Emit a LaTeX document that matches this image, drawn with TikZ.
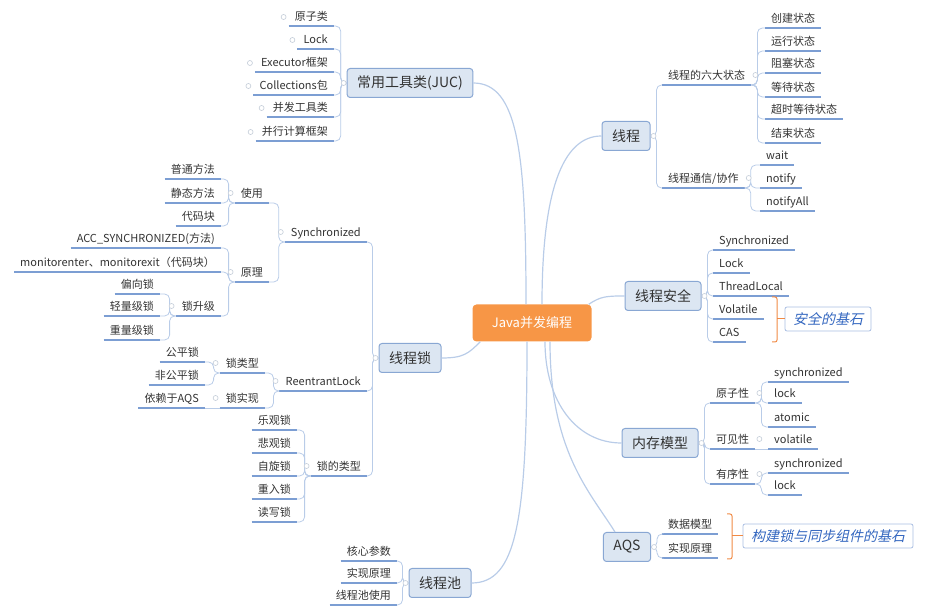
\documentclass[tikz,border=0pt]{standalone}
\usepackage{fontspec}
\setmainfont{Noto Sans CJK SC}
\newfontfamily\slantcjk{Noto Sans CJK SC}[FakeSlant=0.22]
\usepackage{xcolor}
\usepackage{tikz}
\usetikzlibrary{positioning, calc}
\definecolor{boxfill}{HTML}{DCE6F2}
\definecolor{boxline}{HTML}{89A7D3}
\definecolor{ulinec}{HTML}{7C9ED3}
\definecolor{linkc}{HTML}{B9CCE8}
\definecolor{knobc}{HTML}{C3CCD8}
\definecolor{txt}{HTML}{333333}
\definecolor{javaorange}{HTML}{F79646}
\definecolor{bracec}{HTML}{F08A45}
\definecolor{notec}{HTML}{3467C0}
\definecolor{noteline}{HTML}{A9BFE2}

\tikzset{
  topic/.style={draw=boxline, fill=boxfill, line width=1pt, rounded corners=3pt,
    text=txt, font=\fontsize{14}{16}\selectfont, inner xsep=10pt, minimum height=29pt},
  uline/.style={draw=ulinec, line width=1.3pt},
  leaf/.style={text=txt, font=\fontsize{11}{13}\selectfont, inner xsep=6pt, inner ysep=0pt,
    text height=9pt, text depth=5pt,
    append after command={(\tikzlastnode.south west) edge[uline] (\tikzlastnode.south east)}},
  lleaf/.style={leaf, anchor=south east},
  rleaf/.style={leaf, anchor=south west},
  link/.style={draw=linkc, line width=0.8pt, rounded corners=5pt},
  mainlink/.style={draw=linkc, line width=1.2pt},
  knob/.style={draw=knobc, fill=white, line width=0.6pt},
  brace/.style={draw=bracec, line width=1pt, rounded corners=2pt},
  note/.style={draw=noteline, fill=white, line width=0.8pt, rounded corners=2pt, text=notec,
    font=\slantcjk\fontsize{14}{16}\selectfont, inner xsep=8pt, minimum height=24pt}
}

\begin{document}
\begin{tikzpicture}[x=1pt, y=-1pt]
  \useasboundingbox (0,0) rectangle (938,609);

  % centre
  \node[fill=javaorange, rounded corners=4pt, text=white, font=\fontsize{13}{15}\selectfont,
        minimum width=119pt, minimum height=37pt] (java) at (532,323) {Java并发编程};

  % common tools (JUC)
  \node[topic] (juc) at (410,83) {常用工具类(JUC)};
  \foreach \lbl/\y [count=\i] in {原子类/26, Lock/49, Executor框架/72, Collections包/95, 并发工具类/117, 并行计算框架/141}{
    \node[lleaf] (juc\i) at (334,\y) {\lbl};
    \draw[link] (juc\i.south east) -| ([xshift=-6pt]juc.west) -- (juc.west);
    \draw[knob] ([xshift=-5pt,yshift=9pt]juc\i.south west) circle (2.5pt);
  }

  % thread locks
  \node[topic] (lock) at (410,358) {线程锁};
  \node[lleaf] (sync) at (367,242) {Synchronized};
  \node[lleaf] (rlock) at (367,391) {ReentrantLock};
  \node[lleaf] (ltype) at (367,476) {锁的类型};
  \foreach \n in {sync, rlock, ltype}
    \draw[link] (\n.south east) -| ([xshift=-6pt]lock.west) -- (lock.west);

  \node[lleaf] (use) at (269,203) {使用};
  \node[lleaf] (prin) at (269,282) {原理};
  \foreach \n in {use, prin}
    \draw[link] (\n.south east) -| ([xshift=-6pt]sync.south west) -- (sync.south west);
  \foreach \lbl/\y [count=\i] in {普通方法/179, 静态方法/203, 代码块/226}{
    \node[lleaf] (use\i) at (221,\y) {\lbl};
    \draw[link] (use\i.south east) -| ([xshift=-6pt]use.south west) -- (use.south west);
  }
  \foreach \lbl/\y [count=\i] in {{ACC\_SYNCHRONIZED(方法)}/248, {monitorenter、monitorexit（代码块）}/272}{
    \node[lleaf] (prin\i) at (221,\y) {\lbl};
    \draw[link] (prin\i.south east) -| ([xshift=-6pt]prin.south west) -- (prin.south west);
  }
  \node[lleaf] (up) at (221,316) {锁升级};
  \draw[link] (up.south east) -| ([xshift=-6pt]prin.south west) -- (prin.south west);
  \foreach \lbl/\y [count=\i] in {偏向锁/294, 轻量级锁/316, 重量级锁/340}{
    \node[lleaf] (up\i) at (160,\y) {\lbl};
    \draw[link] (up\i.south east) -| ([xshift=-6pt]up.south west) -- (up.south west);
  }

  \node[lleaf] (ltk) at (265,373) {锁类型};
  \node[lleaf] (limp) at (265,408) {锁实现};
  \foreach \n in {ltk, limp}
    \draw[link] (\n.south east) -| ([xshift=-6pt]rlock.south west) -- (rlock.south west);
  \foreach \lbl/\y [count=\i] in {公平锁/362, 非公平锁/385}{
    \node[lleaf] (ltk\i) at (205,\y) {\lbl};
    \draw[link] (ltk\i.south east) -| ([xshift=-6pt]ltk.south west) -- (ltk.south west);
  }
  \node[lleaf] (limp1) at (205,408) {依赖于AQS};
  \draw[link] (limp1.south east) -- (limp.south west);

  \foreach \lbl/\y [count=\i] in {乐观锁/430, 悲观锁/453, 自旋锁/476, 重入锁/499, 读写锁/522}{
    \node[lleaf] (lt\i) at (297,\y) {\lbl};
    \draw[link] (lt\i.south east) -| ([xshift=-6pt]ltype.south west) -- (ltype.south west);
  }

  % thread pool
  \node[topic] (pool) at (440,583) {线程池};
  \foreach \lbl/\y [count=\i] in {核心参数/561, 实现原理/583, 线程池使用/605}{
    \node[lleaf] (pool\i) at (397,\y) {\lbl};
    \draw[link] (pool\i.south east) -| ([xshift=-6pt]pool.west) -- (pool.west);
  }

  % threads
  \node[topic] (xc) at (626,136) {线程};
  \node[rleaf] (six) at (662,85) {线程的六大状态};
  \node[rleaf] (comm) at (662,188) {线程通信/协作};
  \foreach \n in {six, comm}
    \draw[link] (\n.south west) -| ([xshift=6pt]xc.east) -- (xc.east);
  \foreach \lbl/\y [count=\i] in {创建状态/28, 运行状态/51, 阻塞状态/73, 等待状态/97, 超时等待状态/119, 结束状态/143}{
    \node[rleaf] (six\i) at (765,\y) {\lbl};
    \draw[link] (six\i.south west) -| ([xshift=6pt]six.south east) -- (six.south east);
  }
  \foreach \lbl/\y [count=\i] in {wait/165, notify/188, notifyAll/211}{
    \node[rleaf] (comm\i) at (760,\y) {\lbl};
    \draw[link] (comm\i.south west) -| ([xshift=6pt]comm.south east) -- (comm.south east);
  }

  % thread safety
  \node[topic] (safe) at (663,296) {线程安全};
  \foreach \lbl/\y [count=\i] in {Synchronized/250, Lock/273, ThreadLocal/296, Volatile/319, CAS/342}{
    \node[rleaf] (safe\i) at (713,\y) {\lbl};
    \draw[link] (safe\i.south west) -| ([xshift=6pt]safe.east) -- (safe.east);
  }
  \node[note] (safenote) at (828,319) {安全的基石};
  \draw[brace] (772,297) -- (777,297) -- (777,342) -- (772,342);
  \draw[brace] (777,319) -- (safenote.west);

  % memory model
  \node[topic] (mem) at (660,443) {内存模型};
  \node[rleaf] (atom) at (710,403) {原子性};
  \node[rleaf] (vis) at (710,449) {可见性};
  \node[rleaf] (ord) at (710,484) {有序性};
  \foreach \n in {atom, vis, ord}
    \draw[link] (\n.south west) -| ([xshift=6pt]mem.east) -- (mem.east);
  \foreach \lbl/\y [count=\i] in {synchronized/382, lock/403, atomic/427}{
    \node[rleaf] (atom\i) at (768,\y) {\lbl};
    \draw[link] (atom\i.south west) -| ([xshift=6pt]atom.south east) -- (atom.south east);
  }
  \node[rleaf] (vis1) at (768,449) {volatile};
  \draw[link] (vis1.south west) -- (vis.south east);
  \foreach \lbl/\y [count=\i] in {synchronized/473, lock/495}{
    \node[rleaf] (ord\i) at (768,\y) {\lbl};
    \draw[link] (ord\i.south west) -| ([xshift=6pt]ord.south east) -- (ord.south east);
  }

  % AQS
  \node[topic] (aqs) at (627,547) {AQS};
  \foreach \lbl/\y [count=\i] in {数据模型/534, 实现原理/558}{
    \node[rleaf] (aqs\i) at (662,\y) {\lbl};
    \draw[link] (aqs\i.south west) -| ([xshift=6pt]aqs.east) -- (aqs.east);
  }
  \node[note] (aqsnote) at (828,536) {构建锁与同步组件的基石};
  \draw[brace] (727,514) -- (732,514) -- (732,559) -- (727,559);
  \draw[brace] (732,536) -- (aqsnote.west);

  % branches from the centre
  \draw[mainlink] ([xshift=-6pt]java.north) .. controls +(0,-150) and +(45,0) .. (juc.east);
  \draw[mainlink] ([xshift=10pt]java.north) .. controls +(0,-110) and +(-40,0) .. (xc.west);
  \draw[mainlink] ([xshift=-3pt]java.north east) .. controls +(12,-8) and +(-18,0) .. (safe.west);
  \draw[mainlink] ([xshift=8pt]java.south west) .. controls +(-12,12) and +(22,0) .. (lock.east);
  \draw[mainlink] ([xshift=-5pt]java.south) .. controls +(0,180) and +(45,0) .. (pool.east);
  \draw[mainlink] ([xshift=13pt]java.south) .. controls +(0,60) and +(-45,0) .. (mem.west);
  \draw[mainlink] ([xshift=18pt]java.south) .. controls +(0,110) and +(-25,-40) .. ([xshift=-12pt]aqs.north);

  % collapse knobs
  \foreach \n in {juc, lock, pool}
    \draw[knob] ([xshift=-3pt]\n.west) circle (2.5pt);
  \foreach \n in {xc, safe, mem, aqs}
    \draw[knob] ([xshift=3pt]\n.east) circle (2.5pt);
  \foreach \n in {sync, use, prin, up, rlock, ltk, limp, ltype}
    \draw[knob] ([xshift=-4pt,yshift=10pt]\n.south west) circle (2.5pt);
  \foreach \n in {six, comm, atom, vis, ord}
    \draw[knob] ([xshift=4pt,yshift=10pt]\n.south east) circle (2.5pt);
\end{tikzpicture}
\end{document}
